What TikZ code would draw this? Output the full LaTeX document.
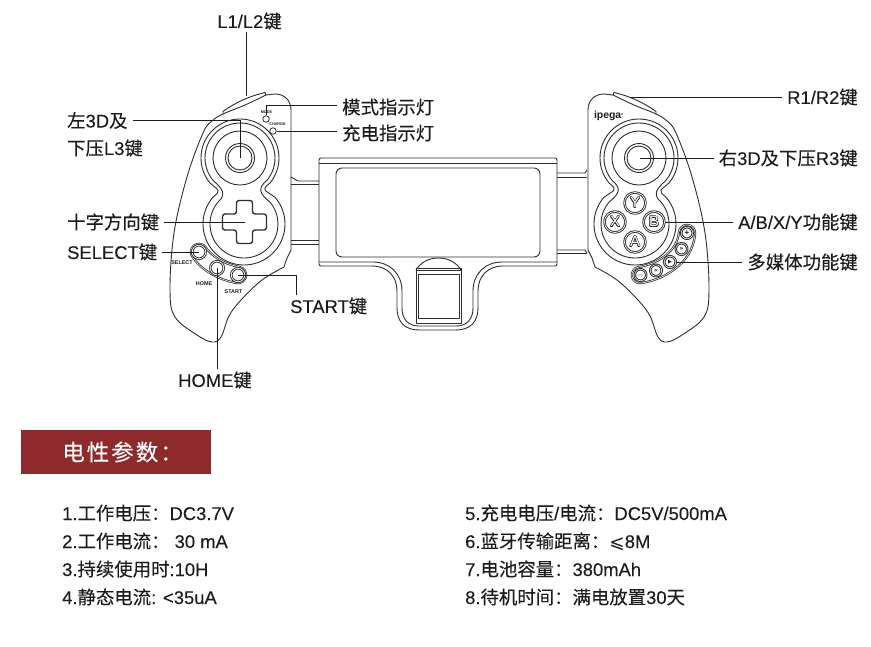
\documentclass[tikz,border=0pt]{standalone}
\usepackage{fontspec}
\usepackage{contour}
\setmainfont[FakeBold=0.12]{Liberation Sans}
\newfontfamily\cjk[FakeBold=0.12]{Noto Sans CJK SC}
\newfontfamily\cjktitle[LetterSpace=9,FakeBold=0.2]{Noto Sans CJK SC}
\newfontfamily\symb{DejaVu Sans}
\newfontfamily\tagfont{Liberation Sans}
\newcommand{\zh}[1]{{\cjk #1}}
\contourlength{0.45pt}
\contournumber{16}
\definecolor{ink}{HTML}{1C1C1C}
\definecolor{wire}{HTML}{2E2E2E}
\definecolor{brick}{HTML}{8E2A2C}

% peanut ring: radius of upper lobe, radius of lower lobe
\newcommand{\peanut}[2]{
  \draw[shell] ([shift={(40:#1)}]240,158) arc (40:-220:#1)
    .. controls +(9,8) and +(9,-8) .. ([shift={(-140:#2)}]244,224)
    arc (-140:-400:#2)
    .. controls +(-10,-8) and +(-10,8) .. ([shift={(40:#1)}]240,158) -- cycle;
}
% one half of the pad
\newcommand{\padshell}{
  \draw[shell] (291,250) -- (291,110) .. controls (291,100) and (284,94) .. (275,94)
    -- (266,95) -- plot[smooth,tension=0.6] coordinates {
      (266,95) (245,105) (223,114) (212,121) (203,133) (187,177) (174,233) (170,290)
      (175,317) (197,335) (212,342) (221,337) (229,316) (241,300) (262,280) (284,267)
    } -- (287,258) -- (291,250);
  % bumper
  \draw[shell] (223,114) -- (223,111.5) .. controls (236,102) and (250,96) .. (265,92.5) -- (266,95);
  \peanut{39}{41}
  \peanut{35}{34}
  \draw[shell] (240,158) circle (27);
  \draw[shell] (240,158) circle (14.5);
  \draw[shell] (240,158) circle (12);
}

\begin{document}
\begin{tikzpicture}[x=1pt,y=-1pt,line join=round]
  % Styles
  \tikzset{
    shell/.style={line width=0.9pt, color=wire},
    leader/.style={line width=0.9pt, color=ink},
    lbl/.style={font=\fontsize{18.4}{20}\selectfont, text=ink, inner xsep=5pt, inner ysep=2pt},
    row/.style={font=\fontsize{18.4}{20}\selectfont, text=ink, anchor=base west, inner sep=0pt},
    tiny/.style={font=\tagfont\bfseries\fontsize{5.4}{6}\selectfont, text=ink, inner sep=0pt},
    lamp/.style={circle, draw=wire, line width=0.8pt, minimum size=6.5pt, inner sep=0pt},
    keybtn/.style={circle, draw=wire, double=white, double distance=0.7pt, line width=0.9pt, fill=white, minimum size=13.5pt, inner sep=0pt},
    facebtn/.style={keybtn, minimum size=21pt, font=\tagfont\fontsize{15}{15}\selectfont},
    medbtn/.style={keybtn, minimum size=11.5pt, line width=1pt, double distance=0.5pt, font=\tagfont\bfseries\fontsize{8}{8}\selectfont, text=ink},
    titlebar/.style={fill=brick, text=white, minimum width=190pt, minimum height=44pt, inner sep=0pt, font=\fontsize{22.5}{24}\selectfont\cjktitle},
  }
  \useasboundingbox (0,0) rectangle (871,646);

  % Manettes
  \padshell
  \begin{scope}[xshift=879pt,xscale=-1]
    \padshell
  \end{scope}

  % Support central
  \draw[shell,rounded corners=2pt] (372,266) -- (319,266) -- (319,158) -- (557,158) -- (557,266) -- (503,266);
  \draw[shell] (503,266) .. controls (487,266) and (478,277) .. (478,291) -- (478,308)
    .. controls (478,322) and (470,330) .. (456,330) -- (419,330)
    .. controls (405,330) and (397,322) .. (397,308) -- (397,291)
    .. controls (397,277) and (388,266) .. (372,266);
  \draw[shell] (319,163) -- (557,163);
  \draw[shell] (319,262) -- (373,262) .. controls (390,262) and (402,274) .. (402,291) -- (402,308)
    .. controls (402,319) and (408,326) .. (419,326) -- (456,326)
    .. controls (467,326) and (473,319) .. (473,308) -- (473,291)
    .. controls (473,274) and (485,262) .. (502,262) -- (557,262);
  \draw[shell,rounded corners=6pt] (336,168) rectangle (540,257);

  % Tiges
  \foreach \y in {184,240,244}
    \draw[shell] (291,\y) -- (319,\y);
  \draw[shell] (291,177) -- (298,181) -- (319,181);
  \foreach \y in {177,253}
    \draw[shell] (557,\y) -- (587,\y);
  \draw[shell] (557,173) -- (585,173) -- (587,170);
  \draw[shell] (557,250) -- (585,250) -- (587,253);

  % Pied
  \draw[shell] (416,270) .. controls (421,262) and (429,258) .. (438.5,258) .. controls (448,258) and (456,262) .. (461,270);
  \draw[shell] (416,268) rectangle (461,323);
  \draw[shell] (418.5,274) rectangle (459,318);
  \draw[shell] (416,270) -- (461,270);

  % Croix
  \draw[line width=1.4pt, color=wire, rounded corners=2.5pt]
    (236.5,200.5) -- (252.5,200.5) -- (252.5,214) -- (266.5,214) -- (266.5,230) -- (252.5,230)
    -- (252.5,243.5) -- (236.5,243.5) -- (236.5,230) -- (222.5,230) -- (222.5,214) -- (236.5,214) -- cycle;

  % Bandes de touches
  \foreach \w/\c in {18.5/wire,17/white,15.6/wire,14/white}{
    \draw[line width=\w pt, color=\c, line cap=round] (199,252) .. controls (207,264) and (222,272) .. (238,275);
    \draw[line width=\w pt, color=\c, line cap=round] (640,275) .. controls (660,272) and (685,258) .. (687,233);
  }

  % Touches
  \node[keybtn] (selectbtn) at (199,252) {};
  \node[keybtn] (homebtn) at (217,268) {};
  \node[keybtn] (startbtn) at (238,275) {};
  \foreach \k/\x/\y in {Y/635/203,X/615/222,B/654/222,A/635/242}
    \node[facebtn] (btn\k) at (\x,\y) {\contour{wire}{\textcolor{white}{\k}}};
  \node[medbtn] (medplus) at (687,233) {+};
  \node[medbtn] (mednext) at (681.5,249) {\symb\fontsize{6}{6}\selectfont »};
  \node[medbtn] (medplay) at (670,262) {\symb\fontsize{5}{5}\selectfont ▶};
  \node[medbtn] (medprev) at (656,270.5) {\symb\fontsize{6}{6}\selectfont «};
  \node[medbtn] (medminus) at (640.5,275) {\(-\)};

  % Voyants
  \node[lamp] (modelamp) at (266,119) {};
  \node[lamp] (chargelamp) at (273,131) {};
  \node[tiny,font=\tagfont\bfseries\fontsize{3.8}{4}\selectfont] (modetag) at (266.5,112) {MODE};
  \node[tiny,font=\tagfont\bfseries\fontsize{3.8}{4}\selectfont] (chargetag) at (277.5,124) {CHARGE};

  % Marques
  \node[tiny] (selecttag) at (182,262.5) {SELECT};
  \node[tiny] (hometag) at (204,283.5) {HOME};
  \node[tiny] (starttag) at (233.5,292) {START};
  \node[font=\tagfont\bfseries\fontsize{10.4}{11}\selectfont, text=ink, inner sep=0pt] (logo) at (609,116) {ipega\textsuperscript{\fontsize{3}{3}\selectfont ®}};

  % Points d'attache
  \coordinate (lbump) at (246,96);
  \coordinate (rbump) at (630,97);
  \coordinate (lstick) at (240,158);
  \coordinate (rstick) at (640,158);
  \coordinate (crossmid) at (245,222);

  % Etiquettes
  \node[lbl] (l1lbl) at (249.5,21) {L1/L2\zh{键}};
  \node[lbl,anchor=west] (l3lbl) at (62,120.5) {\zh{左}3D\zh{及}};
  \node[lbl,anchor=west] (l3sub) at (62,148) {\zh{下压}L3\zh{键}};
  \node[lbl,anchor=west] (crosslbl) at (62,222) {\zh{十字方向键}};
  \node[lbl,anchor=west] (selectlbl) at (62,252) {SELECT\zh{键}};
  \node[lbl,anchor=west] (startlbl) at (285,306) {START\zh{键}};
  \node[lbl] (homelbl) at (215,380) {HOME\zh{键}};
  \node[lbl,anchor=west] (modelbl) at (337,107) {\zh{模式指示灯}};
  \node[lbl,anchor=west] (chargelbl) at (337,133) {\zh{充电指示灯}};
  \node[lbl,anchor=east] (r1lbl) at (863,97) {R1/R2\zh{键}};
  \node[lbl,anchor=east] (r3lbl) at (863,158) {\zh{右}3D\zh{及下压}R3\zh{键}};
  \node[lbl,anchor=east] (abxylbl) at (863,222) {A/B/X/Y\zh{功能键}};
  \node[lbl,anchor=east] (medlbl) at (863,262) {\zh{多媒体功能键}};

  % Traits de rappel
  \draw[leader] (lbump) -- (lbump |- l1lbl.south);
  \draw[leader] (l3lbl.east) -| (lstick);
  \draw[leader] (modelamp.north) |- ([yshift=2pt]modelbl.west);
  \draw[leader] (chargelamp.east) -- ([yshift=2pt]chargelbl.west);
  \draw[leader] (crosslbl.east) -- (crossmid);
  \draw[leader] (selectlbl.east) -- (selectbtn.center);
  \draw[leader] (homebtn.center) -- (homebtn |- homelbl.north);
  \draw[leader] (startbtn.center) -| ([xshift=11pt]startlbl.north west);
  \draw[leader] (rbump) -- (r1lbl.west);
  \draw[leader] (rstick) -- (r3lbl.west);
  \draw[leader] (btnB.east) -- (abxylbl.west);
  \draw[leader] (medplay.east) -- (medlbl.west);

  % Parametres
  \node[titlebar] (partitle) at (116,452) {\hspace*{13pt}电性参数：};
  \foreach \name/\x/\y/\txt in {
    rowa/62/520/{1.\zh{工作电压：}DC3.7V},
    rowb/62/548/{2.\zh{工作电流：} 30 mA},
    rowc/62/576/{3.\zh{持续使用时}:10H},
    rowd/62/604/{4.\zh{静态电流}: <35uA},
    rowe/465/520/{5.\zh{充电电压}/\zh{电流：}DC5V/500mA},
    rowf/465/548/{6.\zh{蓝牙传输距离：}{\symb ⩽}8M},
    rowg/465/576/{7.\zh{电池容量：}380mAh},
    rowh/465/604/{8.\zh{待机时间：满电放置}30\zh{天}}
  }{
    \node[row] (\name) at (\x,\y) {\txt};
  }

\end{tikzpicture}
\end{document}
